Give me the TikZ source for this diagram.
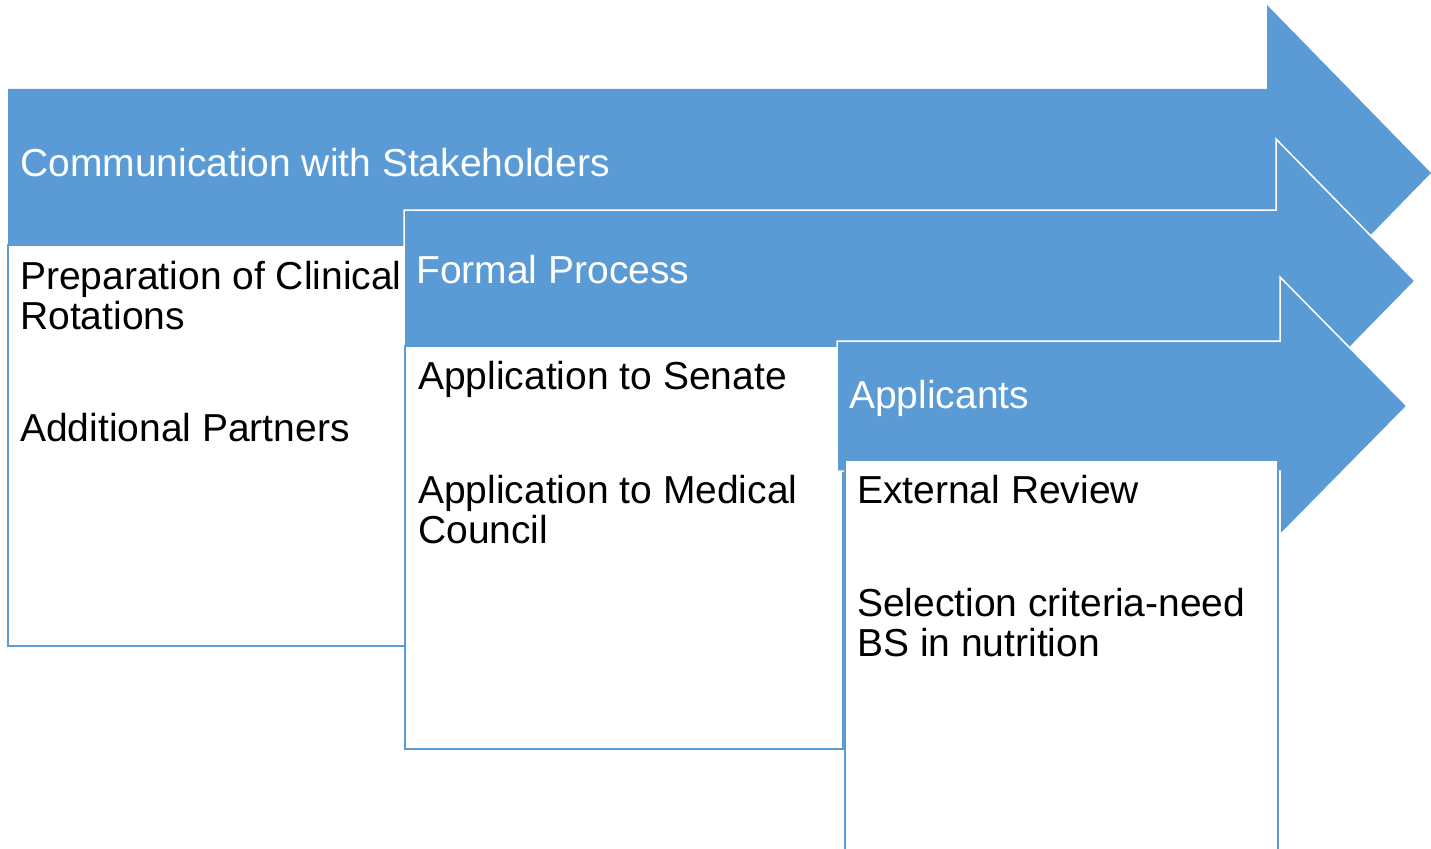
\documentclass[tikz,border=0pt]{standalone}
\usepackage{fontspec}
\setmainfont{Liberation Sans}
\definecolor{arrowblue}{HTML}{5B9BD5}
\tikzset{
  steparrow/.style={fill=arrowblue, draw=white, line width=1.5pt, line join=miter},
  stepbox/.style={fill=white, draw=arrowblue, line width=1.5pt},
  headtext/.style={anchor=base west, inner sep=0pt, text=white},
  boxtext/.style={anchor=base west, inner sep=0pt, text=black, align=left}
}
\begin{document}
\begin{tikzpicture}[x=1pt, y=-1pt]
		\tikzstyle{every node}=[font=\fontsize{39}{40}\selectfont]
		\clip (0,0) rectangle (1431,848);
		% first step
		\draw [steparrow, draw=none] (8,89) -- (1267,89) -- (1267,5) -- (1431,173) -- (1267,341) -- (1267,257) -- (8,257) -- cycle;
		\draw [stepbox] (8,245) rectangle (405,646);
		% second step
		\draw [steparrow] (404,210) -- (1276,210) -- (1276,139) -- (1415,281) -- (1276,423) -- (1276,352) -- (404,352) -- cycle;
		\draw [stepbox] (405,346) rectangle (843,749);
		% third step
		\draw [steparrow] (837,341) -- (1280,341) -- (1280,277) -- (1407,406) -- (1280,535) -- (1280,471) -- (837,471) -- cycle;
		\draw [stepbox] (845,460) rectangle (1278,870);
		% texts (multi-line ones sit on their last baseline)
		\node [headtext] (comm) at (20,176) {Communication with Stakeholders};
		\node [boxtext] (prep) at (20,329) {Preparation of Clinical\\Rotations};
		\node [boxtext] (partners) at (20,441) {Additional Partners};
		\node [headtext] (formal) at (416,283) {Formal Process};
		\node [boxtext] (senate) at (418,389) {Application to Senate};
		\node [boxtext] (council) at (418,543) {Application to Medical\\Council};
		\node [headtext] (applicants) at (849,408) {Applicants};
		\node [boxtext] (review) at (857,503) {External Review};
		\node [boxtext] (criteria) at (857,656) {Selection criteria-need\\BS in nutrition};
	\end{tikzpicture}
\end{document}
